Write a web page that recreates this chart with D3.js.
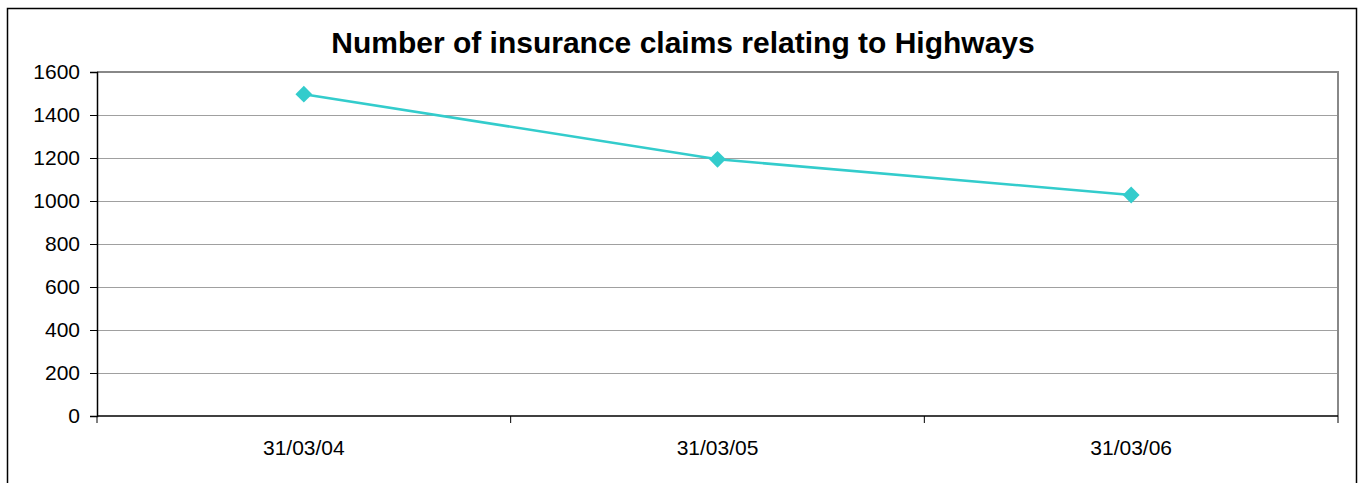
<!DOCTYPE html>
<html>
<head>
<meta charset="utf-8">
<script src="https://cdnjs.cloudflare.com/ajax/libs/d3/7.8.5/d3.min.js"></script>
<style>
  body { margin: 0; background: #fff; }
  text { font-family: "Liberation Sans", Arial, sans-serif; }
</style>
</head>
<body>
<script>
// chart data
var categories = ["31/03/04", "31/03/05", "31/03/06"];
var claims = [1497, 1194, 1028];
var yTicks = [0, 200, 400, 600, 800, 1000, 1200, 1400, 1600];
var chartTitle = "Number of insurance claims relating to Highways";

var width = 1360, height = 483;
var margin = { left: 97, right: 22, top: 72, bottom: 67 };

var svg = d3.select("body").append("svg")
    .attr("width", width)
    .attr("height", height);

// outer chart border
svg.append("rect")
    .attr("x", 7.5).attr("y", 8.5)
    .attr("width", 1349).attr("height", 490)
    .attr("fill", "#fff")
    .attr("stroke", "#000")
    .attr("stroke-width", 1.5);

var x = d3.scaleBand()
    .domain(categories)
    .range([margin.left, width - margin.right]);

var y = d3.scaleLinear()
    .domain([0, 1600])
    .range([height - margin.bottom, margin.top]);

// gridlines
svg.append("g").selectAll("line")
    .data(yTicks.filter(function(d) { return d > 0; }))
    .enter().append("line")
    .attr("x1", margin.left).attr("x2", width - margin.right)
    .attr("y1", function(d) { return Math.round(y(d)) + 0.5; })
    .attr("y2", function(d) { return Math.round(y(d)) + 0.5; })
    .attr("stroke", "#a0a0a0")
    .attr("stroke-width", 1);

// plot area top and right border (grey)
svg.append("path")
    .attr("d", "M" + margin.left + "," + (y(1600)) + "H" + (width - margin.right) + "V" + y(0))
    .attr("fill", "none")
    .attr("stroke", "#888")
    .attr("stroke-width", 2);

// y axis
var yAxis = svg.append("g")
    .attr("transform", "translate(" + margin.left + ",0)")
    .call(d3.axisLeft(y).tickValues(yTicks).tickFormat(d3.format("d")).tickSize(7).tickPadding(10));
yAxis.attr("font-size", null).attr("font-family", null);
yAxis.selectAll("text").style("font-size", "21px").attr("fill", "#000");
yAxis.selectAll("line").attr("stroke", "#000");
yAxis.select(".domain").attr("stroke", "#000").attr("stroke-width", 1.5);

// x axis, ticks at category boundaries
var xAxisG = svg.append("g")
    .attr("transform", "translate(0," + y(0) + ")");
xAxisG.append("line")
    .attr("x1", margin.left).attr("x2", width - margin.right)
    .attr("stroke", "#000").attr("stroke-width", 1.5);
var bounds = categories.map(function(c) { return x(c); }).concat([x.range()[1]]);
xAxisG.selectAll(".bt").data(bounds).enter().append("line")
    .attr("x1", function(d) { return d; }).attr("x2", function(d) { return d; })
    .attr("y1", 0).attr("y2", 7)
    .attr("stroke", "#000");
xAxisG.selectAll(".lbl").data(categories).enter().append("text")
    .attr("x", function(d) { return x(d) + x.bandwidth() / 2; })
    .attr("y", 39)
    .attr("text-anchor", "middle")
    .style("font-size", "21px")
    .text(function(d) { return d; });

// line series
var line = d3.line()
    .x(function(d, i) { return x(categories[i]) + x.bandwidth() / 2; })
    .y(function(d) { return y(d); });

svg.append("path")
    .datum(claims)
    .attr("d", line)
    .attr("fill", "none")
    .attr("stroke", "#33cccc")
    .attr("stroke-width", 2.5);

svg.selectAll(".marker").data(claims).enter().append("path")
    .attr("transform", function(d, i) {
        return "translate(" + (x(categories[i]) + x.bandwidth() / 2) + "," + y(d) + ")";
    })
    .attr("d", d3.symbol().type(d3.symbolDiamond2).size(180))
    .attr("fill", "#33cccc");

// title
svg.append("text")
    .attr("x", 683).attr("y", 53)
    .attr("text-anchor", "middle")
    .style("font-size", "30px")
    .attr("font-weight", "bold")
    .text(chartTitle);
</script>
</body>
</html>
